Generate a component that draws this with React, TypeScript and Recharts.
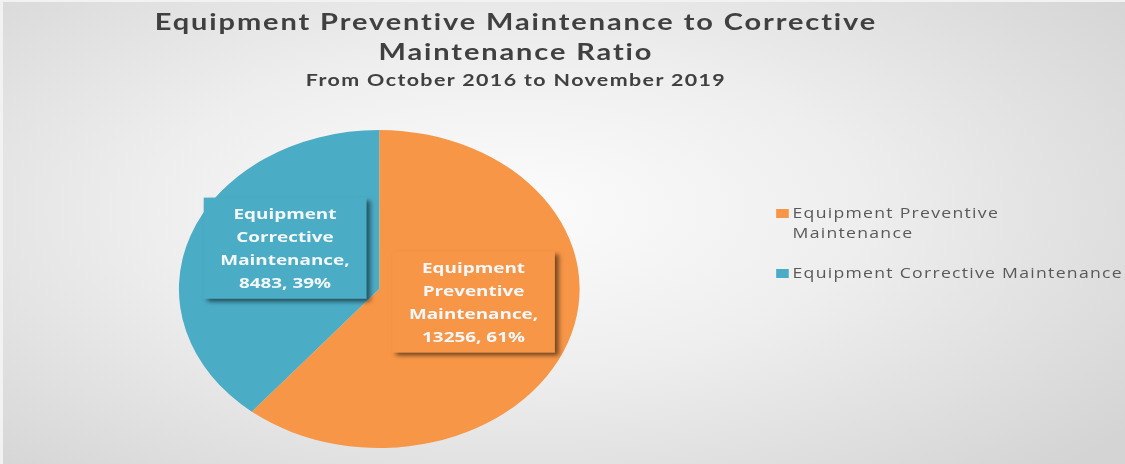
import React from 'react';
import { PieChart, Pie, Cell, Legend } from 'recharts';

const categories = ['Equipment Preventive Maintenance', 'Equipment Corrective Maintenance'];
const counts = [13256, 8483];
const sliceColors = ['#F79646', '#4BACC6'];
const legendLines = [['Equipment Preventive', 'Maintenance'], ['Equipment Corrective Maintenance']];

const titleLines = ['Equipment Preventive Maintenance to Corrective', 'Maintenance Ratio'];
const subtitle = 'From October 2016 to November 2019';

const data = categories.map((name, i) => ({ name, value: counts[i] }));

// the original picture is stretched sideways, so draw narrow and scale X
const STRETCH = 1.26;
const W = 1125;
const H = 464;
const INNER_W = Math.round(W / STRETCH);

const RADIAN = Math.PI / 180;

const renderLabel = (props: any) => {
    const { cx, cy, midAngle, outerRadius, index, value, percent } = props;
    const r = outerRadius * 0.5;
    const x = cx + r * Math.cos(-midAngle * RADIAN);
    const y = cy + r * Math.sin(-midAngle * RADIAN) - 14;
    const words = categories[index].split(' ');
    const lines = [...words.slice(0, -1), words[words.length - 1] + ',', `${value}, ${Math.round(percent * 100)}%`];
    const lineH = 23;
    const boxW = 129;
    const boxH = 101;
    return (
        <g>
            <rect
                x={x - boxW / 2}
                y={y - boxH / 2}
                width={boxW}
                height={boxH}
                fill={sliceColors[index]}
                filter="url(#lblShadow)"
            />
            {lines.map((ln, i) => (
                <text
                    key={i}
                    x={x}
                    y={y + (i - (lines.length - 1) / 2) * lineH}
                    textAnchor="middle"
                    dominantBaseline="central"
                    fill="#f4f8fa"
                    fontFamily="'Open Sans', sans-serif"
                    fontWeight={700}
                    fontSize={15}
                >
                    {ln}
                </text>
            ))}
        </g>
    );
};

const renderLegend = () => (
    <div style={{ fontFamily: "'Open Sans', sans-serif", fontSize: 14, letterSpacing: 1.0, color: '#595959' }}>
        {legendLines.map((lines, i) => (
            <div key={i} style={{ display: 'flex', alignItems: 'flex-start', marginBottom: 20 }}>
                <div style={{ width: 10, height: 9, background: sliceColors[i], marginTop: 6, marginRight: 3, flexShrink: 0 }} />
                <div style={{ lineHeight: '20px', whiteSpace: 'nowrap' }}>
                    {lines.map((t, j) => (
                        <div key={j}>{t}</div>
                    ))}
                </div>
            </div>
        ))}
    </div>
);

export default function App() {
    return (
        <div
            style={{
                width: W,
                height: H,
                overflow: 'hidden',
                position: 'relative',
                boxSizing: 'border-box',
                borderLeft: '3px solid #f2f2f2',
                borderTop: '2px solid #f2f2f2',
                background: 'radial-gradient(ellipse 70% 78% at 45% 45%, #fcfcfc 0%, #eeeeee 45%, #d4d4d4 100%)',
            }}
        >
            <style>{`body{margin:0}`}</style>
            <div
                style={{
                    position: 'absolute',
                    left: -3,
                    top: -2,
                    width: INNER_W,
                    height: H,
                    transform: `scaleX(${STRETCH})`,
                    transformOrigin: '0 0',
                }}
            >
                <div
                    style={{
                        position: 'absolute',
                        left: 0,
                        width: 819,
                        top: 6,
                        textAlign: 'center',
                        fontFamily: 'Lato, sans-serif',
                        fontWeight: 700,
                        color: '#404040',
                    }}
                >
                    {titleLines.map((t, i) => (
                        <div key={i} style={{ fontSize: 23, lineHeight: '30px', letterSpacing: 1.5 }}>{t}</div>
                    ))}
                    <div style={{ fontSize: 17, lineHeight: '28px', letterSpacing: 1.1 }}>{subtitle}</div>
                </div>
                <PieChart
                    width={INNER_W}
                    height={H}
                    margin={{ top: 0, right: 0, bottom: 0, left: 0 }}
                    style={{ position: 'absolute', left: 0, top: 0 }}
                >
                    <defs>
                        <filter id="lblShadow" x="-20%" y="-20%" width="150%" height="150%">
                            <feDropShadow dx="3" dy="3" stdDeviation="2" floodColor="#000000" floodOpacity="0.55" />
                        </filter>
                    </defs>
                    <Pie
                        data={data}
                        dataKey="value"
                        nameKey="name"
                        cx={301}
                        cy={289}
                        outerRadius={159}
                        startAngle={90}
                        endAngle={-270}
                        stroke="none"
                        label={renderLabel}
                        labelLine={false}
                        isAnimationActive={false}
                    >
                        {data.map((d, i) => (
                            <Cell key={d.name} fill={sliceColors[i]} />
                        ))}
                    </Pie>
                    <Legend
                        content={renderLegend}
                        wrapperStyle={{ position: 'absolute', left: 616, top: 203, width: 'auto' }}
                    />
                </PieChart>
            </div>
        </div>
    );
}
